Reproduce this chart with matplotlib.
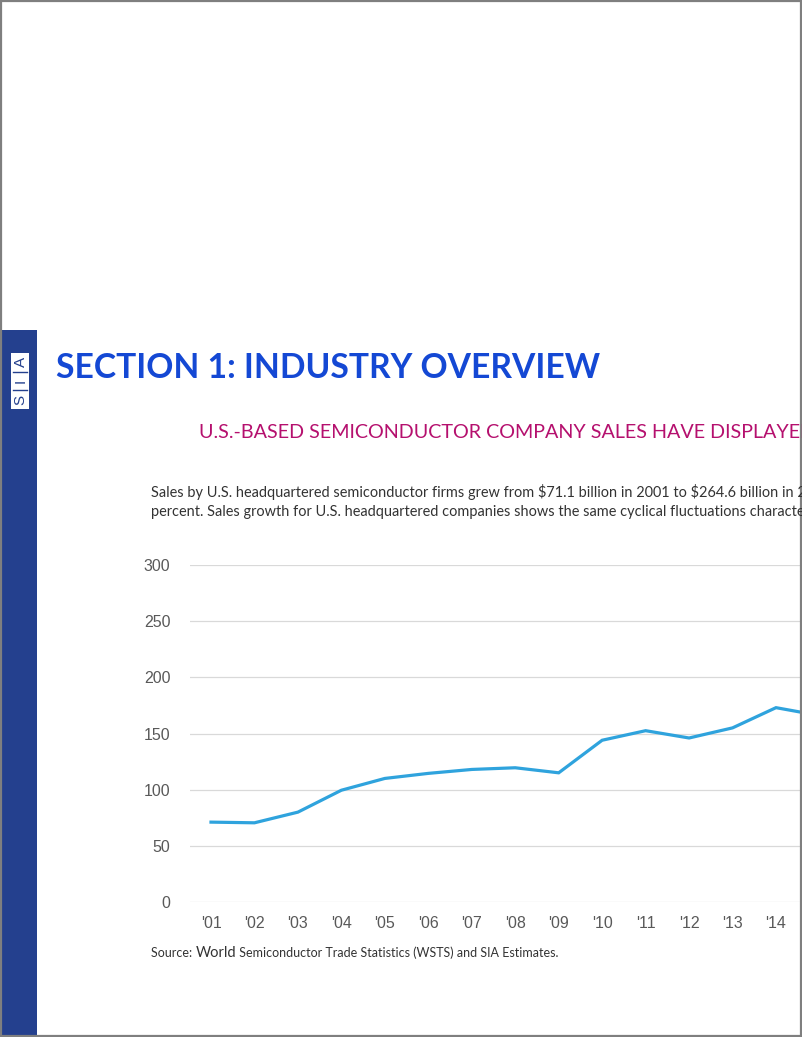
import matplotlib
matplotlib.use("Agg")
import matplotlib.pyplot as plt
from matplotlib.patches import Rectangle
from matplotlib.lines import Line2D

# US-headquartered semiconductor sales, $ billions
years = [2001, 2002, 2003, 2004, 2005, 2006, 2007, 2008,
         2009, 2010, 2011, 2012, 2013, 2014, 2015]
sales = [71.1, 70.5, 80.0, 99.5, 110.0, 114.5, 118.0, 119.5,
         115.0, 144.0, 152.5, 146.0, 155.0, 173.0, 166.0]
shown_years = years[:-1]          # '15 falls past the page edge
year_labels = ["'%02d" % (y % 100) for y in shown_years]
yticks = [0, 50, 100, 150, 200, 250, 300]

title = "SECTION 1: INDUSTRY OVERVIEW"
subtitle = "U.S.-BASED SEMICONDUCTOR COMPANY SALES HAVE DISPLAYED STRONG GROWTH"
body = [r"Sales by U.S. headquartered semiconductor firms grew from \$71.1 billion in 2001 to \$264.6 billion in 2021, a compound annual growth rate of 6.8",
        "percent. Sales growth for U.S. headquartered companies shows the same cyclical fluctuations characteristic of the industry as a whole."]

W, H = 802, 1037
fig = plt.figure(figsize=(W / 100, H / 100), dpi=100)

def fx(px):
    return px / W

def fy(py):
    return 1 - py / H

# page frame and sidebar
gray = "#7f7f7f"
fig.add_artist(Rectangle((fx(0), fy(1037)), fx(37), (1037 - 330) / H,
                         transform=fig.transFigure, color="#24408e", lw=0))
for xs, ys in [([0, 802], [1, 1]), ([0, 802], [1036, 1036]),
               ([0.8, 0.8], [0, 1037]), ([801, 801], [0, 1037])]:
    fig.add_artist(Line2D([fx(x) for x in xs], [fy(y) for y in ys],
                          transform=fig.transFigure, color=gray, lw=1.6))

# SIA logo box
fig.add_artist(Rectangle((fx(11), fy(409)), fx(18), 56 / H,
                         transform=fig.transFigure, color="white", lw=0))
for yy in [372, 390]:
    fig.add_artist(Line2D([fx(13), fx(27)], [fy(yy), fy(yy)],
                          transform=fig.transFigure, color="#24408e", lw=1.0))
for letter, yy in [("S", 400), ("I", 381), ("A", 362)]:
    fig.text(fx(20.5), fy(yy), letter, rotation=90, ha="center", va="center",
             fontsize=11, color="#24408e", family="Liberation Sans")

fig.text(fx(56), fy(368), title, fontsize=24.2, fontweight="bold",
         color="#1448d4", family="Lato", va="center")
fig.text(fx(199), fy(432), subtitle, fontsize=14.2, color="#b5106e",
         family="Lato", va="center")
fig.text(fx(151), fy(492), body[0], fontsize=10.45, color="#333333",
         family="Lato", va="center")
fig.text(fx(151), fy(512), body[1], fontsize=10.45, color="#333333",
         family="Lato", va="center")

# source line, "World" a touch bigger
src = [("Source: ", 9), ("World", 10.5), (" Semiconductor Trade Statistics (WSTS) and SIA Estimates.", 9)]
fig.canvas.draw()
r = fig.canvas.get_renderer()
x0 = 151
for s, fs in src:
    t = fig.text(fx(x0), fy(957), s, fontsize=fs, color="#333333",
                 family="Lato", va="baseline")
    x0 += t.get_window_extent(r).width

# chart
px_per_yr = (776 - 211) / 13.0
xl = 2001 - (211 - 190) / px_per_yr
xr = xl + (840 - 190) / px_per_yr
ax = fig.add_axes([fx(190), 1 - 902 / H, (840 - 190) / W, 337 / H])
ax.plot(years, sales, color="#2fa3dd", lw=2.3, solid_joinstyle="miter")
ax.set_xlim(xl, xr)
ax.set_ylim(0, 300)
ax.set_yticks(yticks)
ax.set_xticks(shown_years)
ax.set_xticklabels(year_labels)
ax.grid(axis="y", color="#d9d9d9", lw=0.9)
ax.set_axisbelow(True)
for s in ax.spines.values():
    s.set_visible(False)
ax.tick_params(length=0, labelsize=11.5, labelcolor="#595959")
ax.tick_params(axis="y", pad=14)
ax.tick_params(axis="x", pad=10)
for lab in ax.get_xticklabels() + ax.get_yticklabels():
    lab.set_family("Liberation Sans")

fig.savefig("out.png", dpi=100)
